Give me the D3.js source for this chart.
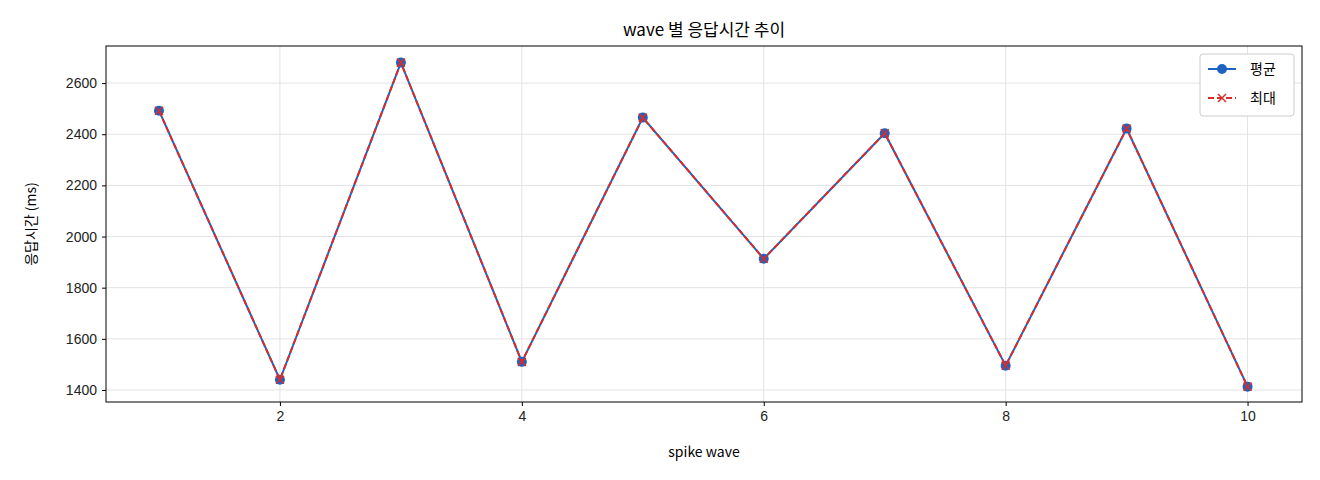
<!DOCTYPE html><html><head><meta charset="utf-8">
<script src="https://cdn.jsdelivr.net/npm/d3@7"></script>
<style>body{margin:0;background:#fff;font-family:"Noto Sans CJK KR","DejaVu Sans",sans-serif}</style></head><body>
<svg id="c" width="1320" height="480"></svg>
<script>
const waves=[1,2,3,4,5,6,7,8,9,10];
const avgVals=[2492,1440,2680,1510,2465,1913,2404,1495,2422,1413];
const maxVals=[2492,1440,2680,1510,2465,1913,2404,1495,2422,1413];
const yTicks=[1400,1600,1800,2000,2200,2400,2600];
const xTicks=[2,4,6,8,10];
const svg=d3.select("#c");
const L=106,R=1302,T=46,B=402;
const x=d3.scaleLinear().domain([0.562,10.45]).range([L,R]);
const y=d3.scaleLinear().domain([1353,2745]).range([B,T]);
const g=svg.append("g");
g.selectAll(".gx").data(xTicks).join("line").attr("x1",d=>x(d)).attr("x2",d=>x(d)).attr("y1",T).attr("y2",B).attr("stroke","#e3e3e3");
g.selectAll(".gy").data(yTicks).join("line").attr("y1",d=>y(d)).attr("y2",d=>y(d)).attr("x1",L).attr("x2",R).attr("stroke","#e3e3e3");
const xa=svg.append("g").attr("transform",`translate(0,${B})`).call(d3.axisBottom(x).tickValues(xTicks).tickSize(4).tickPadding(5).tickFormat(d3.format("d")));
const ya=svg.append("g").attr("transform",`translate(${L},0)`).call(d3.axisLeft(y).tickValues(yTicks).tickSize(4).tickPadding(5).tickFormat(d3.format("d")));
[xa,ya].forEach(a=>{a.select(".domain").remove();a.selectAll("text").attr("font-size",14).attr("fill","#222");});
svg.append("rect").attr("x",L).attr("y",T).attr("width",R-L).attr("height",B-T).attr("fill","none").attr("stroke","#000");
const line=d3.line().x((d,i)=>x(waves[i])).y(d=>y(d));
svg.append("path").datum(avgVals).attr("d",line).attr("fill","none").attr("stroke","#1f63c0").attr("stroke-width",2);
svg.selectAll(".pt").data(avgVals).join("circle").attr("cx",(d,i)=>x(waves[i])).attr("cy",d=>y(d)).attr("r",5).attr("fill","#1f63c0");
svg.append("path").datum(maxVals).attr("d",line).attr("fill","none").attr("stroke","#d62d2d").attr("stroke-width",2).attr("stroke-dasharray","6,3");
const cross=(sel,cx,cy,s)=>{sel.append("path").attr("d",`M${cx-s},${cy-s}L${cx+s},${cy+s}M${cx-s},${cy+s}L${cx+s},${cy-s}`).attr("stroke","#d62d2d").attr("stroke-width",1.5);};
maxVals.forEach((d,i)=>cross(svg,x(waves[i]),y(d),4));
svg.append("text").attr("x",(L+R)/2).attr("y",36).attr("text-anchor","middle").attr("font-size",17).text("wave 별 응답시간 추이");
svg.append("text").attr("x",(L+R)/2).attr("y",457).attr("text-anchor","middle").attr("font-size",14).text("spike wave");
svg.append("text").attr("transform",`translate(36,${(T+B)/2}) rotate(-90)`).attr("text-anchor","middle").attr("font-size",14).text("응답시간 (ms)");
const lg=svg.append("g").attr("transform","translate(1200,54)");
lg.append("rect").attr("width",94).attr("height",62).attr("rx",3).attr("fill","#fff").attr("stroke","#ccc");
lg.append("line").attr("x1",8).attr("x2",36).attr("y1",15).attr("y2",15).attr("stroke","#1f63c0").attr("stroke-width",2);
lg.append("circle").attr("cx",22).attr("cy",15).attr("r",5).attr("fill","#1f63c0");
lg.append("text").attr("x",50).attr("y",20).attr("font-size",14).text("평균");
lg.append("line").attr("x1",8).attr("x2",36).attr("y1",44).attr("y2",44).attr("stroke","#d62d2d").attr("stroke-width",2).attr("stroke-dasharray","6,3");
cross(lg,22,44,4);
lg.append("text").attr("x",50).attr("y",49).attr("font-size",14).text("최대");
</script></body></html>
